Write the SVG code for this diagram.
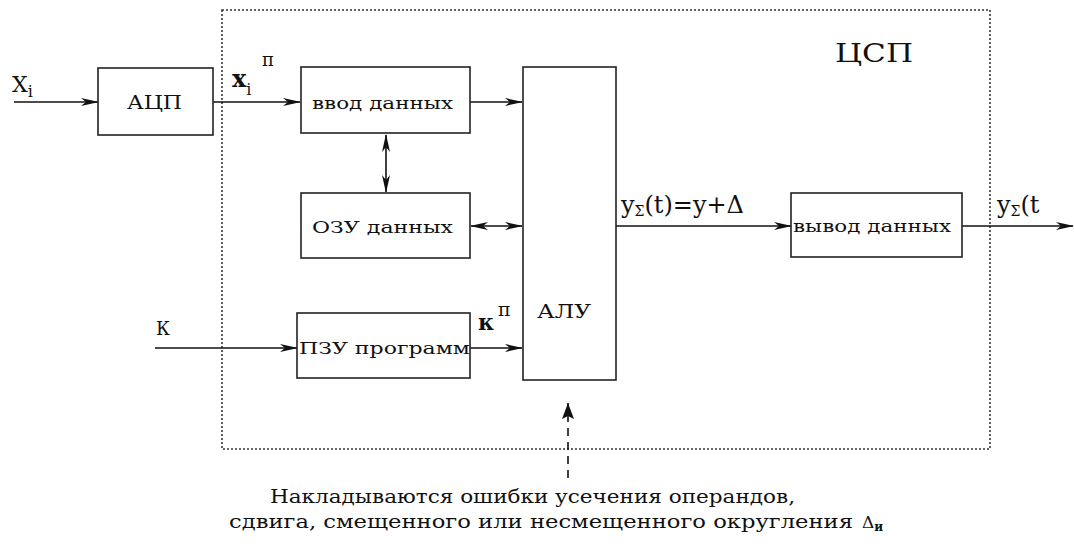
<svg xmlns="http://www.w3.org/2000/svg" width="1074" height="544" viewBox="0 0 1074 544">
<defs>
<marker id="ah" markerUnits="userSpaceOnUse" markerWidth="18" markerHeight="9" refX="17" refY="4.5" orient="auto-start-reverse" viewBox="0 0 18 9">
<path d="M0,0.5 L18,4.5 L0,8.5 L5,4.5 z" fill="#111"/>
</marker>
<marker id="ah2" markerUnits="userSpaceOnUse" markerWidth="16" markerHeight="12" refX="16" refY="6" orient="auto" viewBox="0 0 16 12">
<path d="M0,0 L16,6 L0,12 L3,6 z" fill="#111"/>
</marker>
</defs>
<style>
.box{fill:#fff;stroke:#222;stroke-width:1.6}
.ln{stroke:#111;stroke-width:1.6;fill:none}
.frame{fill:none;stroke:#333;stroke-width:1.6;stroke-dasharray:2,2}
text{font-family:"DejaVu Serif","Liberation Serif",serif}
</style>
<rect width="1074" height="544" fill="#fff"/>
<rect class="frame" x="222" y="10" width="768" height="439"/>
<g id="connectors">
<line class="ln" x1="14" y1="102" x2="98" y2="102" marker-end="url(#ah)"/>
<line class="ln" x1="213" y1="102" x2="300" y2="102" marker-end="url(#ah)"/>
<line class="ln" x1="470" y1="102" x2="522" y2="102" marker-end="url(#ah)"/>
<line class="ln" x1="386" y1="135" x2="386" y2="192" marker-start="url(#ah)" marker-end="url(#ah)"/>
<line class="ln" x1="471" y1="226" x2="522" y2="226" marker-start="url(#ah)" marker-end="url(#ah)"/>
<line class="ln" x1="616" y1="226" x2="791" y2="226" marker-end="url(#ah)"/>
<line class="ln" x1="962" y1="226" x2="1073" y2="226" marker-end="url(#ah)"/>
<line class="ln" x1="155" y1="348" x2="297" y2="348" marker-end="url(#ah)"/>
<line class="ln" x1="470" y1="348" x2="522" y2="348" marker-end="url(#ah)"/>
<line class="ln" x1="568" y1="478" x2="568" y2="420" stroke-dasharray="8,6"/>
<line class="ln" x1="568" y1="420" x2="568" y2="403" marker-end="url(#ah2)"/>
</g>
<g fill="#111">
<g id="adc">
<rect class="box" x="98" y="68" width="115" height="67"/>
<text x="127" y="109" font-size="19" textLength="55" lengthAdjust="spacingAndGlyphs">АЦП</text>
</g>
<g id="input">
<rect class="box" x="301" y="67" width="169" height="66"/>
<text x="312" y="109" font-size="17" textLength="141" lengthAdjust="spacingAndGlyphs">ввод данных</text>
</g>
<g id="ram">
<rect class="box" x="301" y="193" width="169" height="65"/>
<text x="312" y="233" font-size="17" textLength="141" lengthAdjust="spacingAndGlyphs">ОЗУ данных</text>
</g>
<g id="rom">
<rect class="box" x="297" y="313" width="173" height="65"/>
<text x="299" y="354" font-size="17" textLength="171" lengthAdjust="spacingAndGlyphs">ПЗУ программ</text>
</g>
<g id="alu">
<rect class="box" x="523" y="67" width="93" height="313"/>
<text x="537" y="318" font-size="19" textLength="54" lengthAdjust="spacingAndGlyphs">АЛУ</text>
</g>
<g id="output">
<rect class="box" x="791" y="193" width="171" height="64"/>
<text x="793" y="232" font-size="16" textLength="158" lengthAdjust="spacingAndGlyphs">вывод данных</text>
</g>
<g id="labels">
<text x="12" y="92" font-size="22">X<tspan font-size="16" dy="5">i</tspan></text>
<text x="232" y="87" font-size="24" font-weight="bold">x<tspan font-size="16" font-weight="normal" dy="8">i</tspan><tspan font-size="18" font-weight="normal" x="262" y="66">п</tspan></text>
<text x="156" y="335" font-size="18">К</text>
<text x="478" y="330" font-size="22" font-weight="bold">к<tspan font-size="19" font-weight="normal" x="498" y="316">п</tspan></text>
<text x="621" y="213" font-size="24">y<tspan font-size="14" dy="3">Σ</tspan><tspan dy="-3">(t)=y+Δ</tspan></text>
<text x="997" y="213" font-size="24">y<tspan font-size="14" dy="3">Σ</tspan><tspan dy="-3">(t</tspan></text>
<text x="835" y="62" font-size="26" textLength="78" lengthAdjust="spacingAndGlyphs">ЦСП</text>
<text x="270" y="503" font-size="18" textLength="525" lengthAdjust="spacingAndGlyphs">Накладываются ошибки усечения операндов,</text>
<text x="229" y="528" font-size="18" textLength="624" lengthAdjust="spacingAndGlyphs">сдвига, смещенного или несмещенного округления</text>
<text x="862" y="528" font-size="17">Δ<tspan font-size="12" dy="3" font-weight="bold">и</tspan></text>
</g>
</g>
</svg>
